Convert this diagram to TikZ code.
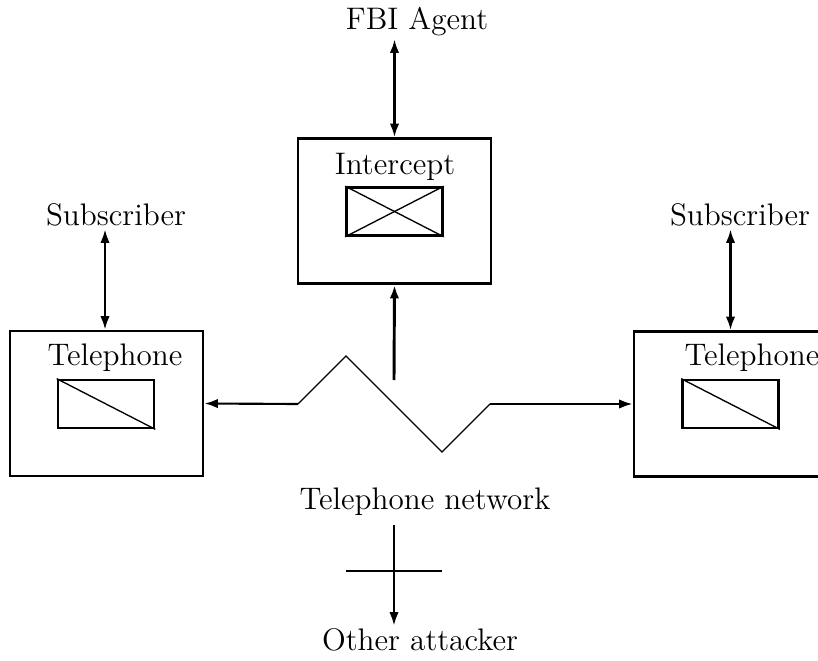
\documentclass[tikz,border=0pt]{standalone}
\usetikzlibrary{arrows.meta}
\begin{document}
\begin{tikzpicture}[x=0.0132cm,y=-0.0132cm,font=\fontsize{11.7}{14}\selectfont,box/.style={draw,line width=1.1pt,minimum width=193*0.0132cm,minimum height=145*0.0132cm,inner sep=0pt},inbox/.style={draw,line width=1pt,minimum width=96*0.0132cm,minimum height=48*0.0132cm,inner sep=0pt},lbl/.style={inner sep=1pt},link/.style={line width=0.8pt},tip/.style={-{Latex[length=5pt,width=3.5pt]}},dtip/.style={{Latex[length=5pt,width=3.5pt]}-{Latex[length=5pt,width=3.5pt]}},net/.style={line width=0.5pt}]
\useasboundingbox (0,0) rectangle (818,661);

% intercept
\node[lbl] (F) at (417,22) {FBI Agent};
\node[box] (I) at (394.5,211) {};
\node[lbl] (Il) at (395,167) {Intercept};
\node[inbox] (Ib) at (394.5,211.5) {};
\draw[net] (Ib.north west) -- (Ib.south east);
\draw[net] (Ib.south west) -- (Ib.north east);
\draw[link,dtip] (I.north) -- (I.north |- F.south);

% left phone
\node[lbl] (S) at (116,215) {Subscriber};
\node[box] (P) at (106.5,403.5) {};
\node[lbl] (Pl) at (115,358) {Telephone};
\node[inbox] (Pb) at (106,404) {};
\draw[net] (Pb.north west) -- (Pb.south east);
\draw[link,dtip] (P.north -| 105,0) -- (S.south -| 105,0);

% right phone
\node[lbl] (S2) at (740,215) {Subscriber};
\node[box] (P2) at (730.5,404) {};
\node[lbl] (Pl2) at (752,358) {Telephone};
\node[inbox] (Pb2) at (730.5,404) {};
\draw[net] (Pb2.north west) -- (Pb2.south east);
\draw[link,dtip] (P2.north) -- (P2.north |- S2.south);

% network
\coordinate (Z1) at (298,404);
\coordinate (Z2) at (346,356);
\coordinate (Z3) at (442,452);
\coordinate (Z4) at (490,404);
\coordinate (T) at (394,380);
\draw[net] (Z1) -- (Z2) -- (Z3) -- (Z4);
\draw[link,tip] (Z1) -- (P.east);
\draw[link,tip] (Z4) -- (P2.west);
\draw[line width=1.1pt,tip] (T) -- (I.south);

% attacker
\node[lbl] (N) at (425,502) {Telephone network};
\node[lbl] (O) at (420,640) {Other attacker};
\coordinate (C1) at (346,571);
\coordinate (C2) at (442,571);
\draw[link,tip] (N.south -| 394,0) ++(0,6) -- (O.north -| 394,0) ;
\draw[link] (C1) -- (C2);
\end{tikzpicture}
\end{document}
